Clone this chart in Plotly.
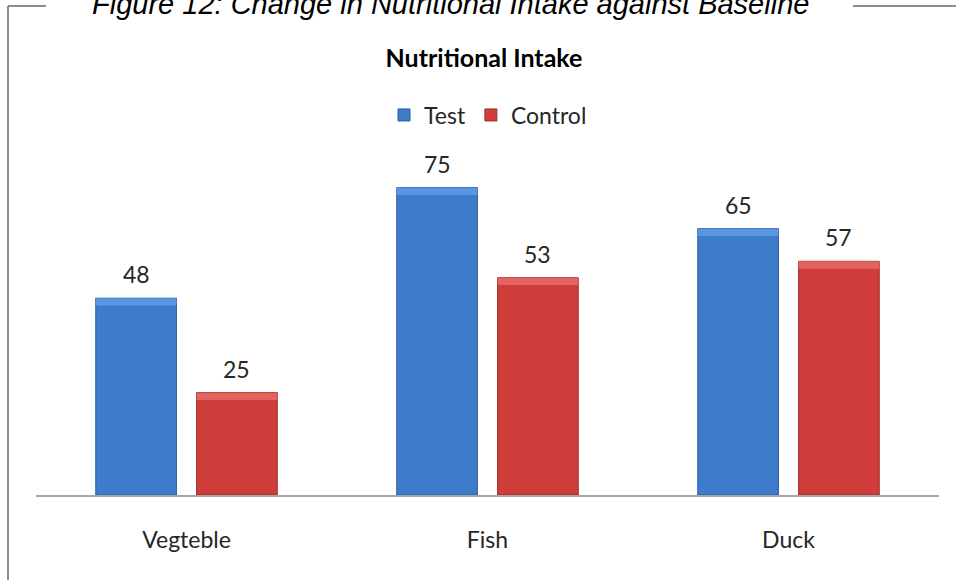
import plotly.graph_objects as go

# Chart data
categories = ["Vegteble", "Fish", "Duck"]
test_values = [48, 75, 65]
control_values = [25, 53, 57]
series_names = ["Test", "Control"]

figure_caption = "Figure 12: Change in Nutritional Intake against Baseline"
chart_title = "Nutritional Intake"

BLUE = "#3D7BCB"
BLUE_TOP = "#5A96E0"
BLUE_EDGE = "#2D5C9A"
RED = "#CF3D3B"
RED_TOP = "#E26360"
RED_EDGE = "#9E2B2A"
TEXT = "#262626"
BODY_FONT = "Lato, 'Open Sans', sans-serif"
BEVEL = 1.8  # height of the lighter cap on each bar, in value units

W, H = 956, 580
ML, MR, MT, MB = 36, 17, 167, 85
PW = W - ML - MR
PH = H - MT - MB


def px_x(px):
    return (px - ML) / PW


def px_y(py):
    return (H - MB - py) / PH


fig = go.Figure()
for name, vals, fill, cap, edge, grp in (
    (series_names[0], test_values, BLUE, BLUE_TOP, BLUE_EDGE, "a"),
    (series_names[1], control_values, RED, RED_TOP, RED_EDGE, "b"),
):
    fig.add_trace(go.Bar(
        name=name, x=categories, y=vals, offsetgroup=grp,
        marker=dict(color=fill, line=dict(color=edge, width=1)),
    ))
    # lighter cap along the top edge of each bar
    fig.add_trace(go.Bar(
        x=categories, y=[BEVEL] * len(vals), base=[v - BEVEL for v in vals],
        offsetgroup=grp, showlegend=False, hoverinfo="skip",
        marker=dict(color=cap, line=dict(width=0)),
    ))

# Value labels above each bar
annotations = []
for vals, shift in ((test_values, -50), (control_values, 50)):
    for cat, v in zip(categories, vals):
        annotations.append(dict(
            x=cat, y=v, xref="x", yref="y", text=str(v), showarrow=False,
            xshift=shift, yanchor="bottom", yshift=8,
            font=dict(family=BODY_FONT, size=23, color=TEXT),
        ))

# Caption sitting in the frame's top edge
annotations.append(dict(
    x=px_x(450), y=px_y(4), xref="paper", yref="paper",
    text="<i>" + figure_caption + "</i>", showarrow=False,
    xanchor="center", yanchor="middle",
    font=dict(family="'Liberation Sans', Arial, sans-serif", size=29, color="#000000"),
))

line_style = dict(color="#8C8C8C", width=2)
shapes = [
    dict(type="line", xref="paper", yref="paper",
         x0=px_x(8), x1=px_x(8), y0=px_y(6), y1=px_y(582), line=line_style),
    dict(type="line", xref="paper", yref="paper",
         x0=px_x(8), x1=px_x(46), y0=px_y(6), y1=px_y(6), line=line_style),
    dict(type="line", xref="paper", yref="paper",
         x0=px_x(853), x1=px_x(960), y0=px_y(6), y1=px_y(6), line=line_style),
]

fig.update_layout(
    width=W, height=H,
    margin=dict(l=ML, r=MR, t=MT, b=MB),
    paper_bgcolor="white", plot_bgcolor="white",
    barmode="group", bargap=0.33, bargroupgap=0.2,
    title=dict(text="<b>" + chart_title + "</b>", x=484 / W,
               xanchor="center", y=1 - 58 / H, yanchor="middle",
               font=dict(family=BODY_FONT, size=25, color="#000000")),
    legend=dict(orientation="h", x=px_x(488), xanchor="center",
                y=px_y(115), yanchor="middle",
                font=dict(family=BODY_FONT, size=23, color=TEXT),
                itemwidth=30, tracegroupgap=0),
    xaxis=dict(showline=True, linecolor="#A6A6A6", linewidth=1.5,
               ticks="", tickfont=dict(family=BODY_FONT, size=23, color=TEXT),
               ticklabelstandoff=24),
    yaxis=dict(range=[0, 80], visible=False),
    annotations=annotations,
    shapes=shapes,
    showlegend=True,
)

fig.write_html("out.html")
